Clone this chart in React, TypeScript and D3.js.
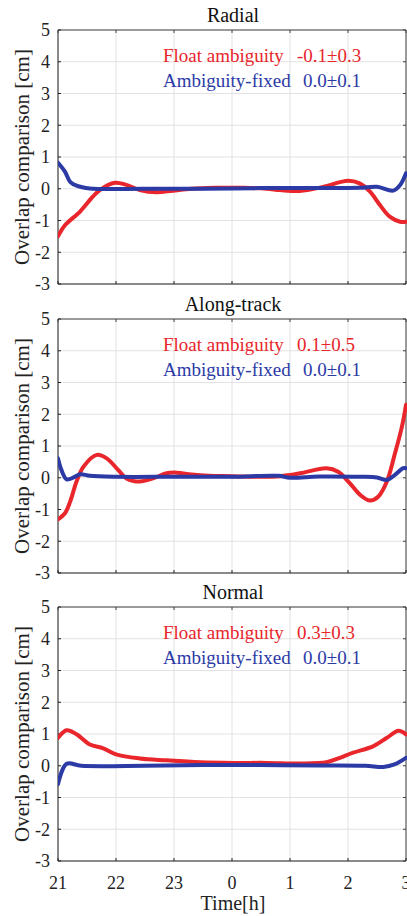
import React from "react";
import * as d3 from "d3";

// Hours after 21:00 are stored as 21..27 so the curve runs continuously past midnight.
const xTickValues = [21, 22, 23, 24, 25, 26, 27];
const xTickLabels = ["21", "22", "23", "0", "1", "2", "3"];
const yTickValues = [-3, -2, -1, 0, 1, 2, 3, 4, 5];

const panelTitles = ["Radial", "Along-track", "Normal"];
const floatStats = ["-0.1\u00b10.3", "0.1\u00b10.5", "0.3\u00b10.3"];
const fixedStats = ["0.0\u00b10.1", "0.0\u00b10.1", "0.0\u00b10.1"];

// Radial
const radialFloatT = [21.0, 21.12, 21.38, 21.6, 21.72, 21.98, 22.18, 22.41, 22.7, 22.98, 23.3, 23.7, 24.2, 24.6, 24.83, 25.17, 25.57, 26.0, 26.2, 26.38, 26.55, 26.72, 26.9, 27.0];
const radialFloatV = [-1.5, -1.15, -0.72, -0.25, -0.04, 0.19, 0.12, -0.04, -0.11, -0.06, 0.0, 0.03, 0.03, 0.0, -0.04, -0.07, 0.06, 0.25, 0.17, -0.09, -0.51, -0.88, -1.04, -1.04];
const radialFixedT = [21.0, 21.12, 21.21, 21.32, 21.55, 22.5, 23.5, 24.5, 25.5, 26.2, 26.5, 26.78, 26.9, 27.0];
const radialFixedV = [0.82, 0.54, 0.22, 0.1, 0.01, 0.0, 0.0, 0.02, 0.02, 0.03, 0.06, -0.06, 0.12, 0.49];

// Along-track
const alongFloatT = [21.0, 21.12, 21.21, 21.32, 21.44, 21.67, 21.84, 22.04, 22.18, 22.41, 22.64, 22.87, 23.05, 23.3, 23.6, 24.0, 24.5, 24.83, 25.17, 25.63, 25.83, 26.03, 26.21, 26.38, 26.52, 26.67, 26.81, 26.93, 27.0];
const alongFloatV = [-1.31, -1.12, -0.75, -0.12, 0.35, 0.72, 0.61, 0.24, -0.02, -0.12, -0.02, 0.14, 0.16, 0.1, 0.06, 0.05, 0.03, 0.05, 0.14, 0.3, 0.19, -0.17, -0.54, -0.72, -0.6, -0.12, 0.77, 1.61, 2.3];
const alongFixedT = [21.0, 21.06, 21.15, 21.27, 21.38, 21.55, 22.0, 23.0, 24.0, 24.8, 25.0, 25.5, 26.21, 26.5, 26.67, 26.81, 26.95, 27.0];
const alongFixedV = [0.61, 0.24, -0.05, 0.01, 0.11, 0.06, 0.03, 0.03, 0.03, 0.06, 0.0, 0.04, 0.03, 0.01, -0.07, 0.09, 0.3, 0.3];

// Normal
const normalFloatT = [21.0, 21.15, 21.32, 21.55, 21.78, 22.0, 22.41, 22.87, 23.45, 24.02, 24.6, 25.17, 25.63, 25.86, 26.09, 26.44, 26.67, 26.87, 27.0];
const normalFloatV = [0.88, 1.12, 0.99, 0.67, 0.55, 0.36, 0.23, 0.17, 0.11, 0.09, 0.09, 0.07, 0.11, 0.25, 0.41, 0.62, 0.88, 1.1, 0.99];
const normalFixedT = [21.0, 21.15, 21.4, 22.5, 23.5, 24.5, 25.5, 26.3, 26.61, 26.8, 27.0];
const normalFixedV = [-0.58, 0.06, 0.0, 0.0, 0.02, 0.02, 0.01, 0.0, -0.04, 0.04, 0.25];

const floatT = [radialFloatT, alongFloatT, normalFloatT];
const floatV = [radialFloatV, alongFloatV, normalFloatV];
const fixedT = [radialFixedT, alongFixedT, normalFixedT];
const fixedV = [radialFixedV, alongFixedV, normalFixedV];

const W = 407;
const H = 916;
const left = 58;
const right = 406;
const panelTops = [30, 319, 607];
const panelHeight = 254;

const RED = "#e8262b";
const BLUE = "#2c3aa6";
const FONT = "'Liberation Serif', 'Times New Roman', serif";

function Panel({ idx }: { idx: number }) {
  const top = panelTops[idx];
  const bottom = top + panelHeight;
  const x = d3.scaleLinear().domain([21, 27]).range([left, right]);
  const y = d3.scaleLinear().domain([-3, 5]).range([bottom, top]);
  const line = d3
    .line<[number, number]>()
    .x((d) => x(d[0]))
    .y((d) => y(d[1]))
    .curve(d3.curveCatmullRom.alpha(0.5));
  const fl = floatT[idx].map((t, i) => [t, floatV[idx][i]] as [number, number]);
  const fx = fixedT[idx].map((t, i) => [t, fixedV[idx][i]] as [number, number]);
  const isLast = idx === 2;
  return (
    <g>
      <defs>
        <clipPath id={`clip${idx}`}>
          <rect x={left} y={top - 2} width={right - left + 2} height={panelHeight + 4} />
        </clipPath>
      </defs>
      <rect x={left} y={top} width={right - left} height={panelHeight} fill="#fff" />
      {yTickValues.map((v) => (
        <line key={`gy${v}`} x1={left} x2={right} y1={y(v)} y2={y(v)} stroke="#e2e2e2" strokeWidth={1} />
      ))}
      {xTickValues.map((v) => (
        <line key={`gx${v}`} x1={x(v)} x2={x(v)} y1={top} y2={bottom} stroke="#e2e2e2" strokeWidth={1} />
      ))}
      <line x1={left} x2={right} y1={top} y2={top} stroke="#444" strokeWidth={1} />
      <line x1={right} x2={right} y1={top} y2={bottom} stroke="#444" strokeWidth={1} />
      <line x1={left} x2={right} y1={bottom} y2={bottom} stroke="#222" strokeWidth={1} />
      <line x1={left} x2={left} y1={top} y2={bottom} stroke="#222" strokeWidth={1} />
      {yTickValues.map((v) => (
        <g key={`ty${v}`}>
          <line x1={left} x2={left + 3} y1={y(v)} y2={y(v)} stroke="#222" />
          <line x1={right - 3} x2={right} y1={y(v)} y2={y(v)} stroke="#444" />
          <text x={50} y={y(v)} dy="0.35em" textAnchor="end" fontFamily={FONT} fontSize={18} fill="#222">
            {v}
          </text>
        </g>
      ))}
      {xTickValues.map((v, i) => (
        <g key={`tx${v}`}>
          <line x1={x(v)} x2={x(v)} y1={bottom} y2={bottom - 3} stroke="#222" />
          <line x1={x(v)} x2={x(v)} y1={top} y2={top + 3} stroke="#444" />
          {isLast && (
            <text x={x(v)} y={bottom + 28} textAnchor="middle" fontFamily={FONT} fontSize={18} fill="#222">
              {xTickLabels[i]}
            </text>
          )}
        </g>
      ))}
      <g clipPath={`url(#clip${idx})`}>
        <path d={line(fl) || ""} fill="none" stroke={RED} strokeWidth={4} strokeLinejoin="round" strokeLinecap="round" />
        <path d={line(fx) || ""} fill="none" stroke={BLUE} strokeWidth={4} strokeLinejoin="round" strokeLinecap="round" />
      </g>
      <text x={(left + right) / 2 + 1} y={top - 8} textAnchor="middle" fontFamily={FONT} fontSize={20} fill="#111">
        {panelTitles[idx]}
      </text>
      <text
        transform={`translate(29, ${(top + bottom) / 2}) rotate(-90)`}
        textAnchor="middle"
        fontFamily={FONT}
        fontSize={21}
        fill="#222"
      >
        Overlap comparison [cm]
      </text>
      <text y={top + 32} fontFamily={FONT} fontSize={19} fill={RED}>
        <tspan x={163}>Float ambiguity</tspan>
        <tspan x={297}>{floatStats[idx]}</tspan>
      </text>
      <text y={top + 57} fontFamily={FONT} fontSize={19} fill={BLUE}>
        <tspan x={163}>Ambiguity-fixed</tspan>
        <tspan x={303}>{fixedStats[idx]}</tspan>
      </text>
    </g>
  );
}

export default function App() {
  return (
    <svg
      width={W}
      height={H}
      viewBox={`0 0 ${W} ${H}`}
      style={{ position: "absolute", left: 0, top: 0, background: "#fff" }}
    >
      <rect x={0} y={0} width={W} height={H} fill="#fff" />
      {[0, 1, 2].map((i) => (
        <Panel key={i} idx={i} />
      ))}
      <text x={233} y={910} textAnchor="middle" fontFamily={FONT} fontSize={20} fill="#222">
        Time[h]
      </text>
    </svg>
  );
}
